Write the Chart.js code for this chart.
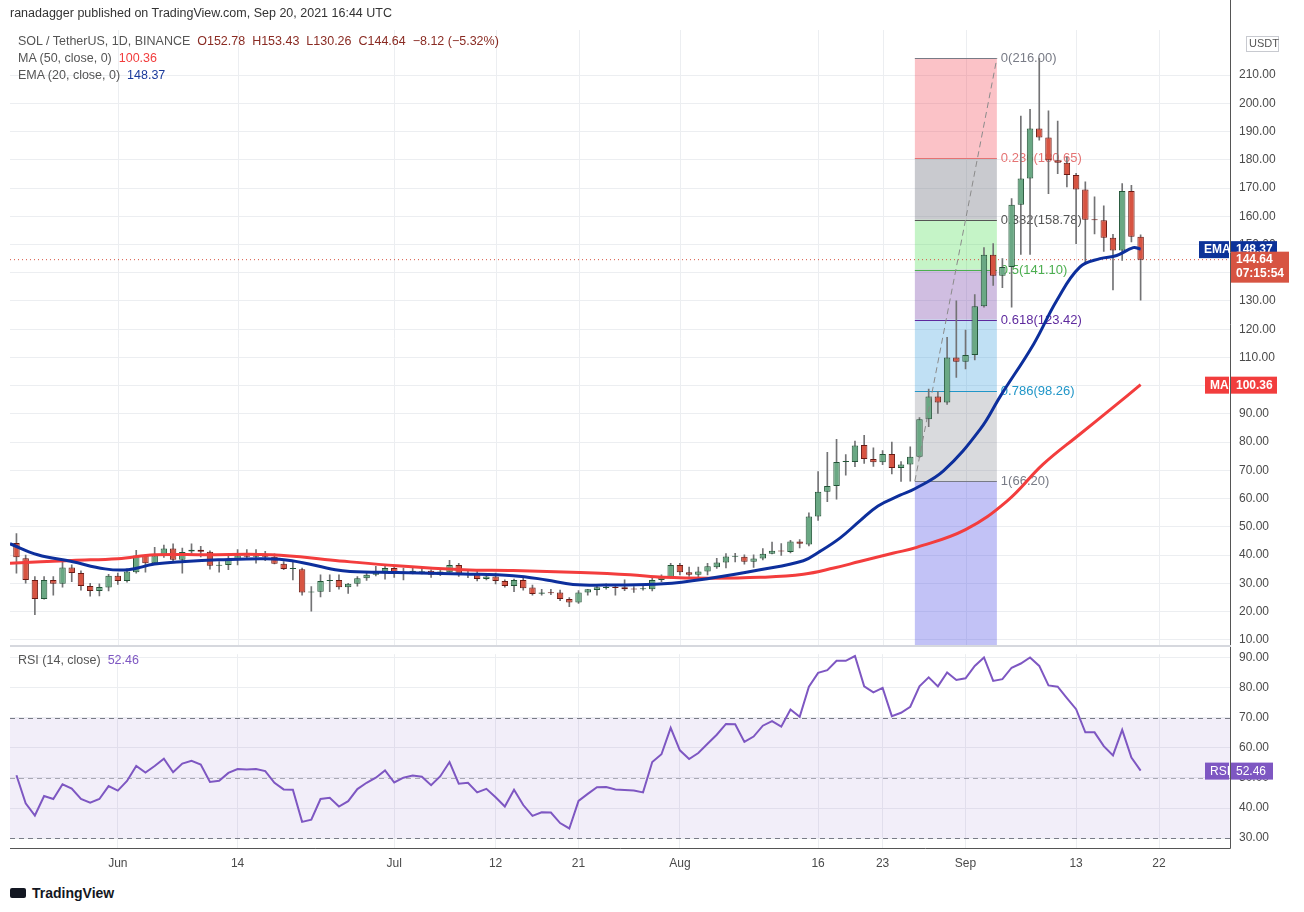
<!DOCTYPE html>
<html lang="en">
<head>
<meta charset="UTF-8">
<title>SOL / TetherUS 1D</title>
<style>
    body { margin: 0; background: #ffffff; font-family: "Liberation Sans", Arial, sans-serif; color: #131722; }
    #wrap { position: relative; width: 1304px; height: 912px; overflow: hidden; }
    .txt { position: absolute; white-space: pre; font-size: 12.5px; }
    #mainBox { position: absolute; left: 0; top: 0; width: 1304px; height: 663px; }
    #rsiBox { position: absolute; left: 0; top: 638px; width: 1304px; height: 240px; }
    #sep { position: absolute; left: 10px; top: 645px; width: 1221px; height: 2px; background: #d6d8de; }
</style>
</head>
<body>
<div id="wrap">
    <div id="mainBox"><canvas id="mainChart"></canvas></div>
    <div id="rsiBox"><canvas id="rsiChart"></canvas></div>
    <div id="sep"></div>
    <div class="txt" style="left:10px; top:6px; color:#333;">ranadagger published on TradingView.com, Sep 20, 2021 16:44 UTC</div>
    <div class="txt" style="left:18px; top:34px; color:#555;">SOL / TetherUS, 1D, BINANCE  <span style="color:#8a2b23">O152.78  H153.43  L130.26  C144.64  −8.12 (−5.32%)</span></div>
    <div class="txt" style="left:18px; top:51px; color:#555;">MA (50, close, 0)  <span style="color:#f23d3d">100.36</span></div>
    <div class="txt" style="left:18px; top:68px; color:#555;">EMA (20, close, 0)  <span style="color:#1b3b9c">148.37</span></div>
    <div class="txt" style="left:18px; top:653px; color:#555;">RSI (14, close)  <span style="color:#7e57c2">52.46</span></div>
    <div class="txt" style="left:10px; top:885px; font-size:14px; color:#131722; font-weight:bold;"><span style="display:inline-block;width:16px;height:10px;background:#131722;margin-right:6px;border-radius:2px;"></span>TradingView</div>
</div>

<script src="https://cdn.jsdelivr.net/npm/chart.js"></script>
<script>
    // daily candles, index 0 = May 21 2021, index 122 = Sep 20 2021
    const opens = [44.3,38.9,31.2,24.4,31.2,29.8,35.6,33.6,29,27.3, 28.5,32.7,30.8,33.9,39.8,37.1,39.8,42.3,38.3,41.3,
        41.9,41.2,36.2,36.5,38.7,39.8,39.4,39.8,39.4,36.9, 35.1,35,26.7,27,30.8,31.2,28.6,29.8,31.8,33,
        33.9,35.4,33.3,33.9,33.9,34.4,33,33.9,36.5,33.2, 33.6,31.5,32.4,30.8,29,31.2,28.5,26.3,26.8,26.7,
        24.4,23.2,26.7,27.6,28.3,28.8,28.6,27.9,27.9,27.9, 31.2,32.1,36.5,33.9,33,34.2,35.7,37.4,39.4,39.4,
        37.6,38.8,40.5,41.5,41.1,44.8,43.7,53.7,62.4,64.5, 73,73,79,74,72.9,75.8,70.8,72.1,74.8,88.1,
        96.2,94,110,108.5,110.9,128.1,146.4,138.9,142,164.1, 173.4,191.1,187.9,179.9,179,174.6,169.5,158.8,158.6,152.4,
        147.9,169,152.78];
    const highs = [47.6,40,32.4,32.4,32.4,37.5,36.5,34.4,30,29.8, 33.2,33.6,35.1,41.7,40.1,42.7,43.5,44,42.5,44,
        43.1,41.5,37.7,40.1,41.9,41.9,41.9,41.3,40.4,37.7, 37.7,35.4,28.8,33,33,33,30,32.4,34.2,36,
        36.5,36,35.4,35.4,35.7,34.8,35,38.1,37.1,34.4, 34.2,33,33.6,31.2,31.5,31.8,29.4,27.9,27.9,27.6,
        24.9,27.4,27.9,29.4,29.8,29.4,31.2,28.8,29.2,31.8, 33,37.1,37.1,35.7,35.7,37.1,38.8,40.5,40.6,40.1,
        40.1,42.3,44.6,44.1,45.2,45.5,55,69.6,76.4,81, 75.6,80.4,82.4,78,77,80,73.1,78.3,88.7,98.8,
        97.9,117.1,130.1,119.7,132.3,148.9,150.3,145,166.3,195.5, 197.9,216,197.4,193.7,181,175.2,172.2,166.9,163.7,153.6,
        171.6,171,153.43];
    const lows = [33.6,30,18.9,24.4,25.8,28.6,30.6,27.6,25.4,25.5, 27.3,29.6,30.4,33.6,33.9,36.9,39.2,37.7,33.6,40.7,
        39.3,35,33.9,34.8,36.5,38.7,37.1,38,36.9,34.8, 31.2,25.8,20.1,25.2,27,27.9,26.4,29,31,32.6,
        31.5,32.1,31.2,33.3,33.3,32.1,32.7,33.9,32.4,32, 30.8,31.2,29.8,28.6,27,27.6,25.8,25.8,26,23.8,
        21.7,22.9,25.8,25.8,27.9,25.8,27.4,26.8,27.6,27.3, 30.6,31.8,33,32.4,32.1,33,35.3,35.4,37.6,36.8,
        35.6,38.3,40.4,39.9,40.8,42.5,43.2,52.3,58.9,59.8, 68.3,71.3,72.5,71.4,72,68.7,66.1,66.2,74.5,85.5,
        90.2,93.4,102.9,105.9,109.1,127.8,135.5,134.7,127.8,146.5, 146.5,187,168,175.1,170.4,150.3,142.9,153.8,147.6,133.9,
        144.4,150.9,130.26];
    const closes = [39.2,31.2,24.4,31.2,29.8,35.6,33.6,29,27.3,28.7, 32.7,30.8,34.2,39.8,37.1,39.8,42.3,38.3,41.1,41.9,
        41.2,36.2,36.5,38.7,39.8,39.4,39.8,39.4,36.9,35.1, 35.4,26.7,27,30.8,31.2,28.6,29.8,31.8,33,33.9,
        35.4,33.3,33.9,34.4,34.2,33,34.2,36.5,33,33.6, 31.5,32.4,30.8,29,31.2,28.2,26.2,26.7,26.5,24.4,
        23.2,26.7,27.9,28.6,28.8,28.3,27.9,27.8,28.1,31.2, 32.3,36.5,33.9,33,34.2,36,37.4,39.5,39.4,37.6,
        38.8,40.5,41.5,41.3,44.8,44,53.7,62.4,64.5,73, 73.1,78.8,74,72.9,75.8,70.8,72.1,74.8,88.1,96.2,
        94,110,108.5,110.9,128.1,146.4,138.9,142,164.1,173.4, 191.1,187.9,179.9,179,174.6,169.5,158.8,158.6,152.4,147.9,
        169,152.78,144.64];

    const emaPts = [[-0.7,44],[2.3,40.1],[6,37.7],[9.6,35.1],[12.1,34.8],[15,36.8],[18.3,37.7],[21.9,38.3],[27,38.7],[29.9,38],
        [34.6,34.8],[36.2,34.2],[41.3,33.8],[48.5,33.3],[53.9,32.7],[57.5,31.2],[60.4,29.6],[64.8,29.4],[70.2,29.8],[75.3,31.8],
        [80.7,34.8],[85.4,38],[87.2,41.3],[89.4,46.1],[91.5,52],[93.5,57.4],[95.9,61.2],[97.5,63.5],[100.6,69.8],[104.6,84.6],
        [106.8,96.4],[110.4,114.8],[112.9,130.2],[115.4,142],[117.6,145],[119.4,146.1],[121.2,148.9],[122,148.37]];
    const maPts = [[-0.7,37.1],[6,38.1],[11,38.7],[15,40.1],[20.5,40.1],[27.7,40.1],[34.6,38.1],[41.3,36.2],[48.5,34.8],[53.9,34.5],
        [61.2,33.8],[66.6,33],[70.2,32.1],[75.3,31.8],[80.7,32.1],[85.4,33.2],[88.7,35.4],[91.5,37.7],[95.2,40.7],[97.7,42.7],
        [103,49],[107.5,59.1],[111.4,72.1],[115.4,82.8],[119,92.3],[122,100.36]];

    const rsiVals = [50.9,41.6,37.5,44,43,47.9,46.5,43,41.8,43, 47.3,45.8,49,54,51.8,54,56.4,51.9,54.8,55.7,
        54.5,48.7,49.1,51.7,53,52.8,53,52.3,48.4,46.2, 46.1,35.4,36.1,43,43.4,40.5,42.3,46.3,48.4,50.1,
        52.5,48.5,50.1,50.8,50.4,47.6,50.6,55.3,48.1,48.4, 45.2,46.4,43.6,40.5,46.1,41,37.4,38.6,38.5,35,
        33.2,42.4, 44.7,46.9,47,46.2,46,45.8,45.2,55.3,57.9, 66.7,59.2,56.3,58.3,61.4,64.4,68,67.9,62,63.8,
        67.4,68.9,67.1,72.8,70.4,80.4,85,85.9,89,89, 90.6,80.5,78.5,80,70.6,71.7,73.7,80.5,83.5,80.5,
        85.1,82.6,83.2,87.3,90.1,82.3,82.9,86.7,88.1,90.1, 87.3,80.8,80.4,76.6,72.9,65.2,65.2,60.6,57.5,66,
        56.8,52.46];

    const tickIdx = [11, 24, 41, 52, 61, 72, 87, 94, 103, 115, 124];
    const tickLabels = ['Jun', '14', 'Jul', '12', '21', 'Aug', '16', '23', 'Sep', '13', '22'];
    const priceTicks = [10,20,30,40,50,60,70,80,90,100,110,120,130,140,150,160,170,180,190,200,210];
    const rsiTicks = [30,40,50,60,70,80,90];

    const fibLevels = [216, 180.65, 158.78, 141.10, 123.42, 98.26, 66.20];
    const fibNames = ['0(216.00)', '0.236(180.65)', '0.382(158.78)', '0.5(141.10)', '0.618(123.42)', '0.786(98.26)', '1(66.20)'];
    const fibFills = ['rgba(242,54,69,0.3)', 'rgba(120,123,134,0.4)', 'rgba(76,220,80,0.32)', 'rgba(120,70,170,0.35)',
        'rgba(60,160,220,0.32)', 'rgba(120,123,134,0.28)', 'rgba(80,80,230,0.35)'];
    const fibLines = ['#787b86', '#e57373', '#555', '#4caf50', '#5e2a9e', '#2196c8', '#787b86'];
    const fibFrom = 97.5, fibTo = 106.4;

    const XMIN = -0.7, XMAX = 131.7;
    const UP = '#6aa884', UP_B = '#225437', DN = '#d75442', DN_B = '#6b1a14';
    const gridCol = '#eceef1';
    Chart.defaults.font.family = '"Liberation Sans", Arial, sans-serif';
    Chart.defaults.animation = false;

    const idx = closes.map((c, i) => i);
    const up = idx.map(i => closes[i] >= opens[i]);

    function box(ctx, x, y, w, h, bg, text, fg, bold) {
        ctx.fillStyle = bg;
        ctx.fillRect(x, y, w, h);
        ctx.fillStyle = fg;
        ctx.font = (bold ? 'bold ' : '') + '12px "Liberation Sans", Arial';
        ctx.textBaseline = 'middle';
        ctx.textAlign = 'left';
        ctx.fillText(text, x + 5, y + h / 2 + 0.5);
    }

    const fibPlugin = {
        id: 'fib',
        beforeDatasetsDraw(chart) {
            const { ctx, scales: { x, y }, chartArea } = chart;
            ctx.save();
            // vertical grid at date ticks
            ctx.strokeStyle = gridCol;
            tickIdx.forEach(v => {
                const px = Math.round(x.getPixelForValue(v)) + 0.5;
                ctx.beginPath(); ctx.moveTo(px, chartArea.top); ctx.lineTo(px, chartArea.bottom); ctx.stroke();
            });
            const x0 = x.getPixelForValue(fibFrom), x1 = x.getPixelForValue(fibTo);
            for (let i = 0; i < fibLevels.length; i++) {
                const top = y.getPixelForValue(fibLevels[i]);
                const bot = i + 1 < fibLevels.length ? y.getPixelForValue(fibLevels[i + 1]) : chartArea.bottom;
                ctx.fillStyle = fibFills[i];
                ctx.fillRect(x0, top, x1 - x0, bot - top);
            }
            for (let i = 0; i < fibLevels.length; i++) {
                const py = Math.round(y.getPixelForValue(fibLevels[i])) + 0.5;
                ctx.strokeStyle = fibLines[i];
                ctx.lineWidth = 1;
                ctx.beginPath(); ctx.moveTo(x0, py); ctx.lineTo(x1, py); ctx.stroke();
                ctx.fillStyle = fibLines[i];
                ctx.font = '13px "Liberation Sans", Arial';
                ctx.textBaseline = 'middle';
                ctx.textAlign = 'left';
                ctx.fillText(fibNames[i], x1 + 4, py);
            }
            // last price dotted line
            const lp = y.getPixelForValue(closes[closes.length - 1]);
            ctx.strokeStyle = '#d75442';
            ctx.setLineDash([1, 3]);
            ctx.beginPath(); ctx.moveTo(chartArea.left, lp); ctx.lineTo(chartArea.right, lp); ctx.stroke();
            ctx.restore();
        },
        afterDraw(chart) {
            const { ctx, scales: { y }, chartArea } = chart;
            const r = chartArea.right;
            ctx.save();
            ctx.strokeStyle = '#555';
            ctx.beginPath(); ctx.moveTo(r + 0.5, chartArea.top - 30); ctx.lineTo(r + 0.5, chartArea.bottom + 2); ctx.stroke();
            const ye = y.getPixelForValue(148.37);
            box(ctx, r - 31, ye - 8, 30, 17, '#0c3299', 'EMA', '#fff', true);
            box(ctx, r + 1, ye - 8, 46, 17, '#0c3299', '148.37', '#fff', true);
            const yc = y.getPixelForValue(144.64);
            ctx.fillStyle = '#d75442';
            ctx.fillRect(r + 1, yc - 8, 58, 31);
            ctx.fillStyle = '#fff';
            ctx.font = 'bold 12px "Liberation Sans", Arial';
            ctx.fillText('144.64', r + 6, yc);
            ctx.fillText('07:15:54', r + 6, yc + 14);
            const ym = y.getPixelForValue(100.36);
            box(ctx, r - 25, ym - 8, 24, 17, '#f23d3d', 'MA', '#fff', true);
            box(ctx, r + 1, ym - 8, 46, 17, '#f23d3d', '100.36', '#fff', true);
            ctx.fillStyle = '#fff';
            ctx.strokeStyle = '#c8cad0';
            ctx.fillRect(r + 16, 36, 32, 15);
            ctx.strokeRect(r + 16.5, 36.5, 32, 15);
            ctx.fillStyle = '#555';
            ctx.font = '11px "Liberation Sans", Arial';
            ctx.fillText('USDT', r + 19, 44);
            ctx.restore();
        }
    };

    new Chart(document.getElementById('mainChart'), {
        type: 'bar',
        data: {
            datasets: [
                { type: 'line', data: emaPts.map(p => ({ x: p[0], y: p[1] })), borderColor: '#0d2f9c', borderWidth: 3,
                  pointRadius: 0, tension: 0.4, order: 1 },
                { type: 'line', data: maPts.map(p => ({ x: p[0], y: p[1] })), borderColor: '#f33d3d', borderWidth: 3,
                  pointRadius: 0, tension: 0.4, order: 1 },
                { type: 'line', data: [{ x: fibFrom, y: fibLevels[6] }, { x: fibTo, y: fibLevels[0] }], borderColor: '#8a8a8a',
                  borderWidth: 1, borderDash: [6, 4], pointRadius: 0, order: 0 },
                { data: idx.map(i => ({ x: i, y: [opens[i], closes[i]] })), grouped: false, order: 2,
                  backgroundColor: idx.map(i => up[i] ? UP : DN), borderColor: idx.map(i => up[i] ? UP_B : DN_B),
                  borderWidth: 1, borderSkipped: false, barPercentage: 0.7, categoryPercentage: 1, minBarLength: 1 },
                { data: idx.map(i => ({ x: i, y: [lows[i], highs[i]] })), grouped: false, order: 3,
                  backgroundColor: '#737375', barThickness: 1 }
            ]
        },
        options: {
            responsive: true, maintainAspectRatio: false, devicePixelRatio: 1,
            layout: { padding: { left: 10, top: 30, right: 0, bottom: 0 } },
            plugins: { legend: { display: false }, tooltip: { enabled: false } },
            scales: {
                x: { type: 'linear', min: XMIN, max: XMAX, offset: false, display: false },
                y: { position: 'right', min: 7.5, max: 226,
                     afterBuildTicks: s => { s.ticks = priceTicks.map(v => ({ value: v })); },
                     ticks: { callback: v => v.toFixed(2), color: '#4a4a4a', font: { size: 12 }, padding: 9 },
                     grid: { color: gridCol, drawTicks: false }, border: { display: false },
                     afterFit: s => { s.width = 74; } }
            }
        },
        plugins: [fibPlugin]
    });

    const rsiPlugin = {
        id: 'rsiBand',
        beforeDatasetsDraw(chart) {
            const { ctx, scales: { y }, chartArea } = chart;
            const t = y.getPixelForValue(70), b = y.getPixelForValue(30);
            ctx.save();
            ctx.fillStyle = 'rgba(126,87,194,0.1)';
            ctx.fillRect(chartArea.left, t, chartArea.right - chartArea.left, b - t);
            ctx.strokeStyle = '#787b86';
            ctx.setLineDash([5, 4]);
            [70, 50, 30].forEach(v => {
                const py = Math.round(y.getPixelForValue(v)) + 0.5;
                ctx.globalAlpha = v === 50 ? 0.6 : 1;
                ctx.beginPath(); ctx.moveTo(chartArea.left, py); ctx.lineTo(chartArea.right, py); ctx.stroke();
            });
            ctx.restore();
        },
        afterDraw(chart) {
            const { ctx, scales: { y }, chartArea } = chart;
            const r = chartArea.right;
            ctx.save();
            ctx.strokeStyle = '#555';
            ctx.beginPath(); ctx.moveTo(r + 0.5, 8); ctx.lineTo(r + 0.5, chartArea.bottom + 0.5); ctx.lineTo(10, chartArea.bottom + 0.5); ctx.stroke();
            const yr = y.getPixelForValue(52.46);
            box(ctx, r - 25, yr - 8, 24, 17, '#7e57c2', 'RSI', '#fff', false);
            box(ctx, r + 1, yr - 8, 42, 17, '#7e57c2', '52.46', '#fff', false);
            ctx.restore();
        }
    };

    new Chart(document.getElementById('rsiChart'), {
        type: 'line',
        data: {
            datasets: [{ data: rsiVals.map((v, i) => ({ x: i, y: v })), borderColor: '#7e57c2', borderWidth: 2,
                         pointRadius: 0, tension: 0 }]
        },
        options: {
            responsive: true, maintainAspectRatio: false, devicePixelRatio: 1,
            layout: { padding: { left: 10, top: 0, right: 0, bottom: 0 } },
            plugins: { legend: { display: false }, tooltip: { enabled: false } },
            scales: {
                x: { type: 'linear', min: XMIN, max: XMAX,
                     afterBuildTicks: s => { s.ticks = tickIdx.map(v => ({ value: v })); },
                     ticks: { callback: v => tickLabels[tickIdx.indexOf(v)], color: '#4a4a4a', font: { size: 12 }, maxRotation: 0, padding: 8 },
                     grid: { color: gridCol, drawTicks: false }, border: { display: false },
                     afterFit: s => { s.height = 30; } },
                y: { position: 'right', min: 26.7, max: 91.2,
                     afterBuildTicks: s => { s.ticks = rsiTicks.map(v => ({ value: v })); },
                     ticks: { callback: v => v.toFixed(2), color: '#4a4a4a', font: { size: 12 }, padding: 9 },
                     grid: { color: gridCol, drawTicks: false }, border: { display: false },
                     afterFit: s => { s.width = 74; } }
            }
        },
        plugins: [rsiPlugin]
    });
</script>
</body>
</html>
